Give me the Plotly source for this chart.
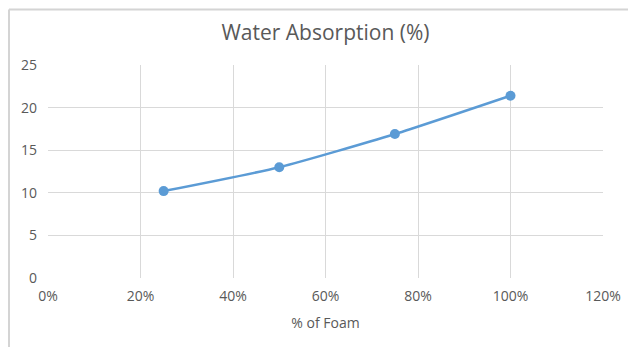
import plotly.graph_objects as go

foam_pct = [25, 50, 75, 100]
water_absorption = [10.2, 13.0, 16.9, 21.4]
x_ticks = [0, 20, 40, 60, 80, 100, 120]
x_tick_labels = ["0%", "20%", "40%", "60%", "80%", "100%", "120%"]
y_ticks = [0, 5, 10, 15, 20, 25]

FONT = "Open Sans, Lato, sans-serif"
GREY = "#595959"

# page has an 8px body margin; figure coordinates are offset accordingly
W, H = 628, 339
L, R_EDGE, T, B_EDGE = 40, 595, 57, 270

fig = go.Figure()
fig.add_trace(go.Scatter(
    x=foam_pct, y=water_absorption, mode="lines+markers",
    line=dict(color="#5B9BD5", width=2.5, shape="spline", smoothing=0.6),
    marker=dict(color="#5B9BD5", size=10),
    showlegend=False,
))

pw, ph = R_EDGE - L, B_EDGE - T
border = dict(color="#D4D4D4", width=2)

fig.update_layout(
    width=W, height=H,
    margin=dict(l=L, r=W - R_EDGE, t=T, b=H - B_EDGE),
    paper_bgcolor="white", plot_bgcolor="white",
    title=dict(text="Water Absorption (%)", x=(L + R_EDGE) / 2 / W, xanchor="center",
               y=1 - 25 / H, yanchor="middle",
               font=dict(family=FONT, size=21, color=GREY)),
    xaxis=dict(range=[0, 120], tickvals=x_ticks, ticktext=x_tick_labels,
               showgrid=True, gridcolor="#D9D9D9", gridwidth=1,
               zeroline=False, showline=False, ticks="",
               ticklabelstandoff=8,
               tickfont=dict(family=FONT, size=14, color=GREY),
               title=dict(text="% of Foam", font=dict(family=FONT, size=14, color=GREY),
                          standoff=14)),
    yaxis=dict(range=[0, 25], tickvals=y_ticks,
               showgrid=True, gridcolor="#D9D9D9", gridwidth=1,
               zeroline=False, showline=False, ticks="",
               ticklabelstandoff=10,
               tickfont=dict(family=FONT, size=14, color=GREY)),
    font=dict(family=FONT, color=GREY),
    shapes=[
        dict(type="line", xref="paper", yref="paper",
             x0=(1 - L) / pw, x1=(W - L) / pw,
             y0=(B_EDGE - 1.5) / ph, y1=(B_EDGE - 1.5) / ph,
             line=border, layer="above"),
        dict(type="line", xref="paper", yref="paper",
             x0=(1 - L) / pw, x1=(1 - L) / pw,
             y0=(B_EDGE - 1.5) / ph, y1=(B_EDGE - H) / ph,
             line=border, layer="above"),
    ],
)

fig.write_html("out.html")
